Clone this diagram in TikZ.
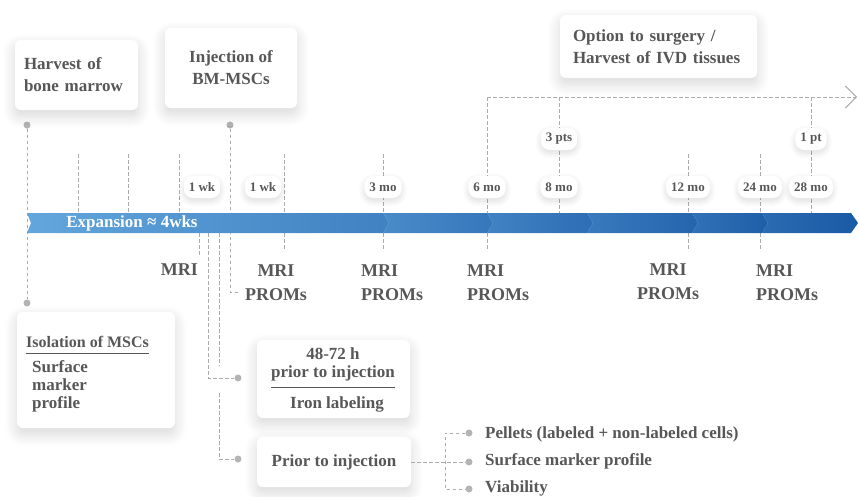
\documentclass[tikz,border=0pt]{standalone}
\usepackage{fontspec}
\setmainfont{Liberation Serif}
\usetikzlibrary{positioning,calc,arrows.meta,shadows.blur}
\definecolor{tltext}{HTML}{575757}
\definecolor{tldash}{HTML}{ABABAB}
\definecolor{tldot}{HTML}{B4B4B4}
\definecolor{tllight}{HTML}{62A6DC}
\definecolor{tldark}{HTML}{1A5AA6}
\tikzset{
    % white card with soft shadow
    tlcard/.style={
        rectangle,
        rounded corners=6pt,
        fill=white,
        text=tltext,
        font=\fontsize{17}{22}\selectfont\bfseries,
        blur shadow={shadow xshift=0pt, shadow yshift=-6pt,
            shadow blur radius=12pt, shadow opacity=16, shadow blur steps=12}
    },
    % small time label
    tlpill/.style={
        rectangle,
        rounded corners=9pt,
        fill=white,
        text=tltext,
        font=\fontsize{13}{15}\selectfont\bfseries,
        minimum height=22pt,
        inner xsep=5pt,
        inner ysep=2pt,
        blur shadow={shadow xshift=0pt, shadow yshift=-3pt,
            shadow blur radius=6pt, shadow opacity=14, shadow blur steps=8}
    },
    % plain bold text
    tllabel/.style={
        text=tltext,
        font=\fontsize{17}{22}\selectfont\bfseries,
        inner sep=0pt
    },
    % exam labels below the bar
    tlexam/.style={
        text=tltext,
        font=\fontsize{18}{24}\selectfont\bfseries,
        inner sep=0pt
    },
    % dashed leader line
    tlline/.style={
        draw=tldash,
        line width=1pt,
        dash pattern=on 3.5pt off 2.5pt
    },
    % grey dot
    tldotnode/.style={
        circle,
        fill=tldot,
        inner sep=0pt,
        minimum size=7pt
    }
}

\begin{document}
\begin{tikzpicture}[x=1pt,y=-1pt]
    \useasboundingbox (0,0) rectangle (859,496);

    % leaders above the bar
    \foreach \x/\n in {78/a,128/b,179/c,284/d,383/e,688/f,760/g}{
        \coordinate (up\n) at (\x,154);
        \coordinate (bt\n) at (\x,213);
        \draw[tlline] (up\n) -- (bt\n);
    }
    % leaders below the bar
    \foreach \x/\n in {284/d,383/e,487/h,688/f,760/g}{
        \coordinate (bb\n) at (\x,233);
        \coordinate (lo\n) at (\x,251);
        \draw[tlline] (bb\n) -- (lo\n);
    }

    % surgery option branch
    \coordinate (sx) at (487,97);
    \coordinate (sy) at (559,97);
    \coordinate (sz) at (811,97);
    \coordinate (send) at (857,97);
    \draw[tlline, -{Straight Barb[length=11pt,width=22pt,line width=1pt]}] (sx) -- (send);
    \draw[tlline] (sx) -- (487,213);
    \draw[tlline] (sy) -- (559,213);
    \draw[tlline] (sz) -- (811,213);

    % harvest / isolation and injection leaders
    \node[tldotnode] (hdot) at (27,125) {};
    \node[tldotnode] (idot) at (27,303) {};
    \draw[tlline] (hdot) -- (idot);
    \node[tldotnode] (jdot) at (230,125) {};
    \coordinate (jend) at (238,292);
    \draw[tlline] (jdot) -- (230,292) -- (jend);

    % cell work-up leaders
    \node[tldotnode] (irondot) at (238,378) {};
    \node[tldotnode] (priordot) at (238,459) {};
    \draw[tlline] (199,233) -- (199,256);
    \draw[tlline] (208,233) -- (208,378) -- (irondot);
    \draw[tlline] (219,233) -- (219,366);
    \draw[tlline] (219,393) -- (219,459) -- (priordot);

    % timeline bar
    \shade[left color=tllight, right color=tldark!48!tllight]
        (27,213) -- (383,213) -- (389,223) -- (383,233) -- (27,233) -- (31,223) -- cycle;
    \shade[left color=tldark!35!tllight, right color=tldark!62!tllight]
        (383,213) -- (487,213) -- (493,223) -- (487,233) -- (383,233) -- (389,223) -- cycle;
    \shade[left color=tldark!47!tllight, right color=tldark!74!tllight]
        (487,213) -- (587,213) -- (593,223) -- (587,233) -- (487,233) -- (493,223) -- cycle;
    \shade[left color=tldark!58!tllight, right color=tldark!86!tllight]
        (587,213) -- (692,213) -- (698,223) -- (692,233) -- (587,233) -- (593,223) -- cycle;
    \shade[left color=tldark!70!tllight, right color=tldark!94!tllight]
        (692,213) -- (762,213) -- (768,223) -- (762,233) -- (692,233) -- (698,223) -- cycle;
    \shade[left color=tldark!78!tllight, right color=tldark]
        (762,213) -- (851,213) -- (858,223) -- (851,233) -- (762,233) -- (768,223) -- cycle;
    \node[tllabel, text=white] (expansion) at (132,223) {Expansion ≈ 4wks};

    % time labels
    \node[tlpill] (wka) at (202,187) {1 wk};
    \node[tlpill] (wkb) at (263,187) {1 wk};
    \node[tlpill] (moa) at (383,187) {3 mo};
    \node[tlpill] (mob) at (487,187) {6 mo};
    \node[tlpill] (moc) at (559,187) {8 mo};
    \node[tlpill] (mod) at (688,187) {12 mo};
    \node[tlpill] (moe) at (760,187) {24 mo};
    \node[tlpill] (mof) at (811,187) {28 mo};
    \node[tlpill] (pta) at (559,139) {3 pts};
    \node[tlpill] (ptb) at (811,139) {1 pt};

    % exams
    \node[tlexam, anchor=east] (mria) at (198,270) {MRI};
    \node[tlexam, align=center] (mrib) at (276,283) {MRI\\PROMs};
    \node[tlexam, align=left, anchor=west] (mric) at (361,283) {MRI\\PROMs};
    \node[tlexam, align=left, anchor=west] (mrid) at (467,283) {MRI\\PROMs};
    \node[tlexam, align=center] (mrie) at (668,282) {MRI\\PROMs};
    \node[tlexam, align=left, anchor=west] (mrif) at (756,283) {MRI\\PROMs};

    % top cards
    \node[tlcard, minimum width=123pt, minimum height=70pt, text width=105pt,
        inner xsep=9pt, align=left] (harvest) at (76.5,75) {Harvest of\\bone marrow};
    \node[tlcard, minimum width=132pt, minimum height=80pt, align=center]
        (injection) at (231,68) {Injection of\\BM-MSCs};
    \node[tlcard, minimum width=197pt, minimum height=63pt, text width=171pt,
        inner xsep=13pt, align=left] (surgery) at (658.5,46.5) {Option to surgery /\\Harvest of IVD tissues};

    % isolation card
    \node[tlcard, minimum width=158pt, minimum height=116pt] (isolation) at (96,370) {};
    \node[tllabel, font=\fontsize{16}{20}\selectfont\bfseries, anchor=west] (isotitle) at (26,342) {Isolation of MSCs};
    \draw[tltext, line width=0.8pt] (isotitle.west |- 0,353) -- (isotitle.east |- 0,353);
    \node[tllabel, font=\fontsize{17}{18}\selectfont\bfseries, align=left, anchor=west]
        (isomarker) at (32,386) {Surface\\marker\\profile};

    % iron labeling card
    \node[tlcard, minimum width=153pt, minimum height=78pt] (iron) at (333.5,379) {};
    \node[tllabel, font=\fontsize{17}{18}\selectfont\bfseries, align=center] (irontime) at (333,364) {48-72 h\\prior to injection};
    \draw[tltext, line width=0.8pt] (irontime.west |- 0,387) -- (irontime.east |- 0,387);
    \node[tllabel] (ironlab) at (337,404) {Iron labeling};

    % prior to injection card
    \node[tlcard, minimum width=154pt, minimum height=50pt] (prior) at (334,462) {Prior to injection};

    % quality checks
    \coordinate (brtop) at (445,433);
    \coordinate (brmid) at (445,462);
    \coordinate (brbot) at (445,489);
    \node[tldotnode] (qda) at (469,433) {};
    \node[tldotnode] (qdb) at (469,462) {};
    \node[tldotnode] (qdc) at (469,489) {};
    \draw[tlline] (prior.east) -- (brmid) -- (qdb);
    \draw[tlline] (qda) -- (brtop) -- (brbot) -- (qdc);
    \node[tllabel, anchor=west] (qpellets) at (485,434) {Pellets (labeled + non-labeled cells)};
    \node[tllabel, anchor=west] (qsurface) at (485,461) {Surface marker profile};
    \node[tllabel, anchor=west] (qviable) at (485,488) {Viability};

\end{tikzpicture}
\end{document}
